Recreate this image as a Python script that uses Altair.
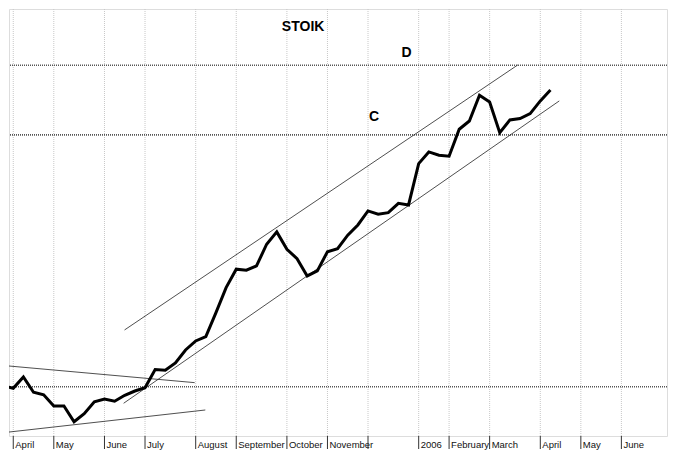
import altair as alt
import pandas as pd

# ---- data ----
weeks = list(range(-1, 54))
price = [52.92, 52.73, 53.66, 52.41, 52.21, 51.31, 51.31, 50.09, 50.71, 51.65,
         51.87, 51.69, 52.17, 52.51, 52.78, 54.28, 54.21, 54.82, 55.93, 56.71,
         57.09, 59.24, 61.56, 63.33, 63.23, 63.65, 65.81, 67.07, 65.30, 64.37,
         62.68, 63.16, 65.06, 65.36, 66.73, 67.79, 69.27, 68.92, 69.09, 70.09,
         69.91, 74.50, 75.85, 75.46, 75.35, 78.54, 79.55, 82.76, 81.91, 78.13,
         79.68, 79.84, 80.45, 82.04, 83.44]

month_week = [0, 4, 9, 13, 18, 22, 27, 31, 35, 40, 43, 47, 52, 56, 60]
month_label = ["April", "May", "June", "July", "August", "September", "October",
               "November", "", "2006", "February", "March", "April", "May", "June"]

level_name = ["D", "C", "S"]
level_value = [86.67, 77.86, 52.86]

trend_id = ["up", "up", "low", "low", "desc", "desc", "asc", "asc"]
trend_week = [10.98, 49.78, 10.89, 53.87, -0.42, 17.9, -0.42, 18.95]
trend_value = [57.68, 86.71, 51.53, 82.04, 54.57, 53.19, 49.30, 51.00]

note_text = ["STOIK", "D", "C"]
note_week = [28.6, 38.8, 35.6]
note_value = [91.93, 88.33, 80.04]

axis_ticks = list(range(0, 65))
price_ticks = list(range(49, 95))

# ---- tables ----
df_price = pd.DataFrame({"w": weeks, "v": price})
df_month = pd.DataFrame({"w": month_week, "label": month_label})
df_level = pd.DataFrame({"name": level_name, "v": level_value})
df_trend = pd.DataFrame({"id": trend_id, "w": trend_week, "v": trend_value})
df_note = pd.DataFrame({"text": note_text, "w": note_week, "v": note_value})

W, H = 658, 427
xscale = alt.Scale(domain=[-0.42, 64.5], nice=False, zero=False)
yscale = alt.Scale(type="log", domain=[49, 94.5], nice=False)

grid = alt.Chart(df_month).mark_rule(color="#c8c8c8", strokeDash=[1, 1], strokeWidth=1).encode(
    x=alt.X("w:Q", scale=xscale, axis=None)
)

levels = alt.Chart(df_level).mark_rule(color="#555555", strokeDash=[1, 1], strokeWidth=1.6).encode(
    y=alt.Y("v:Q", scale=yscale, axis=None)
)

trends = alt.Chart(df_trend).mark_line(color="#222222", strokeWidth=0.8, clip=True).encode(
    x=alt.X("w:Q", scale=xscale, axis=None),
    y=alt.Y("v:Q", scale=yscale, axis=None),
    detail="id:N",
)

line = alt.Chart(df_price).mark_line(color="black", strokeWidth=3, clip=True).encode(
    x=alt.X("w:Q", scale=xscale,
            axis=alt.Axis(values=axis_ticks, labels=False, title=None, grid=False,
                          tickSize=4, tickColor="#1c1c5c", tickWidth=1,
                          domainColor="#777777", domainWidth=1)),
    y=alt.Y("v:Q", scale=yscale,
            axis=alt.Axis(orient="right", values=price_ticks, labels=False, title=None,
                          grid=False, tickSize=3, tickColor="#222222",
                          domainColor="#999999", domainWidth=1)),
)

notes = alt.Chart(df_note).mark_text(font="Liberation Sans", fontWeight="bold",
                                     fontSize=14, color="black").encode(
    x=alt.X("w:Q", scale=xscale, axis=None),
    y=alt.Y("v:Q", scale=yscale, axis=None),
    text="text:N",
)

seps = alt.Chart(df_month).mark_rule(color="#333333", strokeWidth=1).encode(
    x=alt.X("w:Q", scale=xscale, axis=None),
    y=alt.value(H),
    y2=alt.value(H + 13),
)

labels = alt.Chart(df_month).mark_text(font="Liberation Sans", fontSize=9.5, align="left",
                                       baseline="middle", dx=2, color="#111111").encode(
    x=alt.X("w:Q", scale=xscale, axis=None),
    y=alt.value(H + 9),
    text="label:N",
)

chart = alt.layer(grid, levels, trends, line, notes, seps, labels).properties(
    width=W, height=H, padding={"left": 0, "top": 0, "right": 0, "bottom": 0}
).configure_view(stroke=None).configure(background="white")

chart.save("out.html", embed_options={"renderer": "svg", "actions": False})
